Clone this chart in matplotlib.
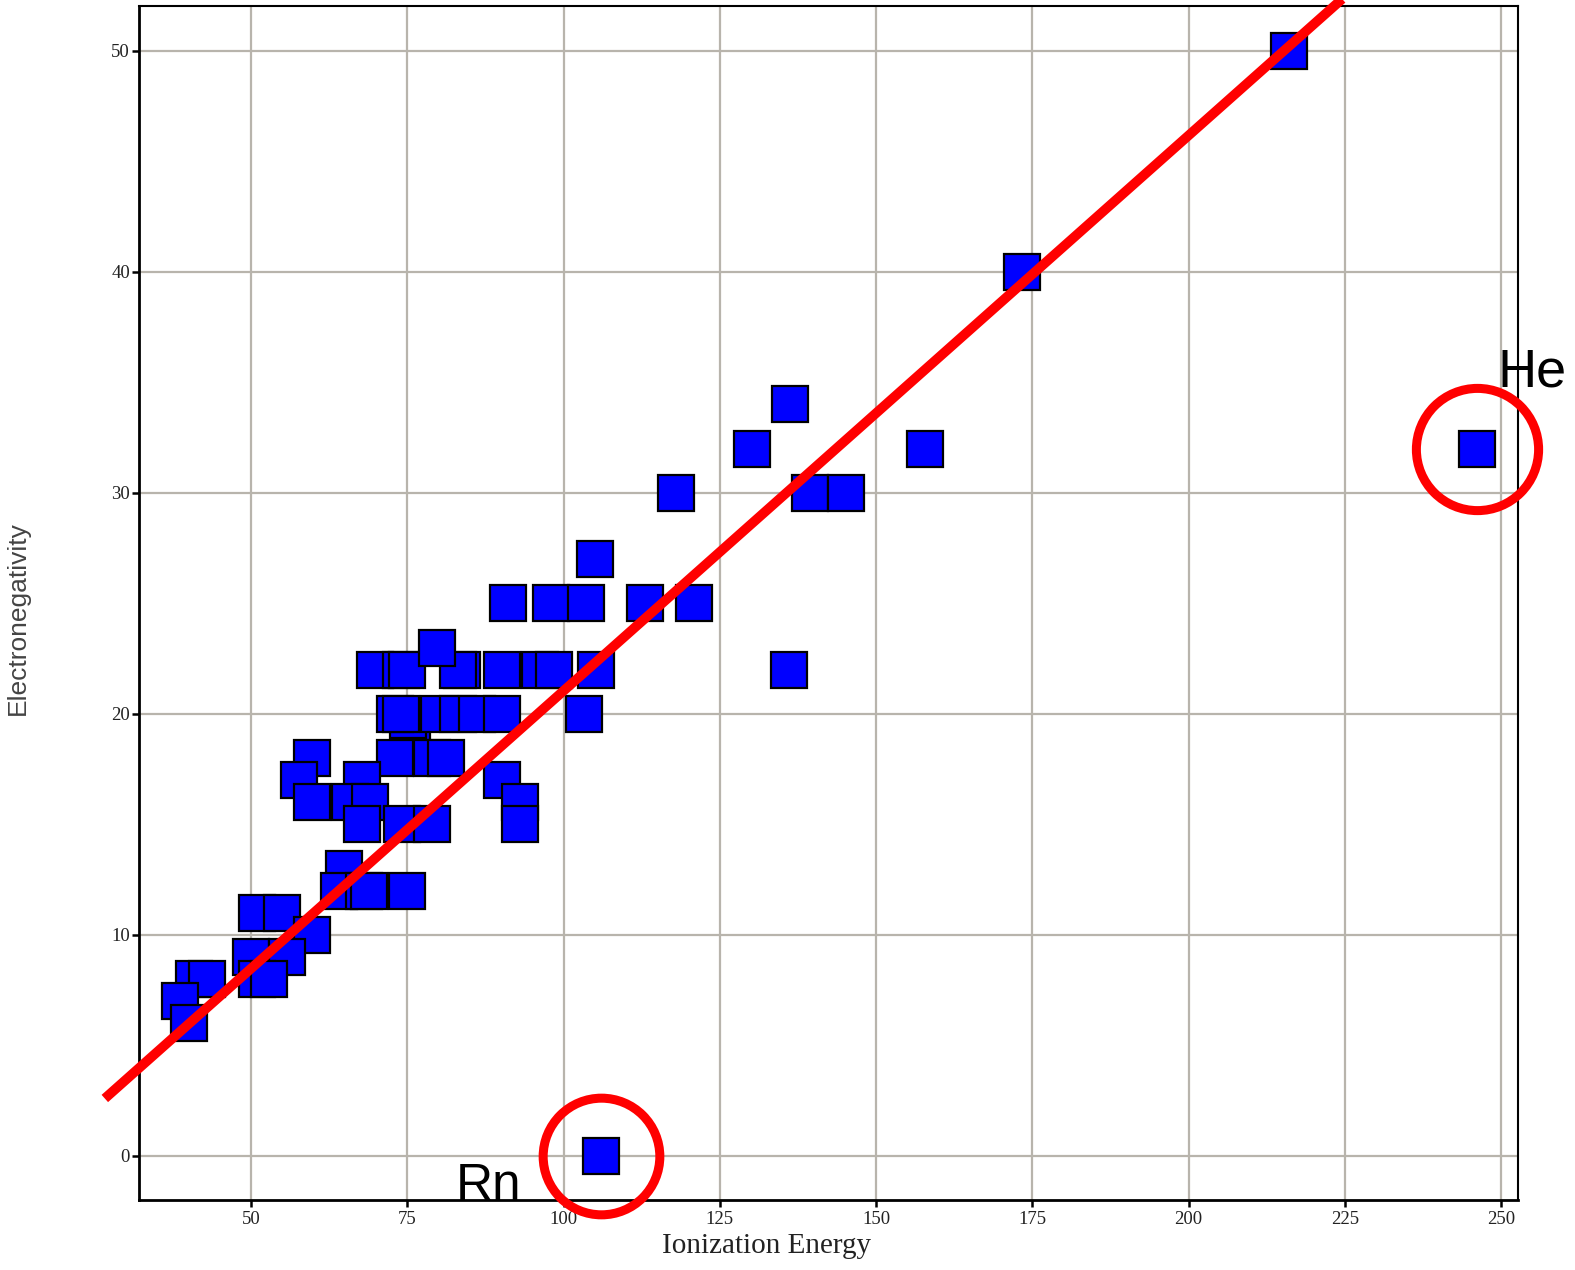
import matplotlib
matplotlib.use("Agg")
import matplotlib.pyplot as plt
import numpy as np

# ionization energy (x10) vs electronegativity (x10)
ion = [216.0, 173.3, 136.2, 130.1, 157.9, 246.2, 118.0, 139.4, 145.2, 105.1,
       91.1, 98.0, 103.6, 113.0, 120.9, 136.0, 105.2, 103.2, 106.0,
       69.9, 74.0, 74.9, 83.7, 83.1, 90.1, 96.3, 98.5, 79.8,
       75.7, 75.1,
       73.0, 74.0, 80.1, 83.1, 86.1, 90.1,
       73.0, 79.0, 81.2, 59.7,
       57.7, 67.8, 90.1,
       59.8, 65.9, 69.0, 93.1,
       67.7, 74.1, 79.0, 93.1,
       64.9,
       64.0, 68.0, 68.8, 74.9,
       50.9, 54.9,
       59.8,
       50.0, 55.8,
       40.9, 43.0, 50.9, 52.8,
       38.7, 40.0]
eneg = [50, 40, 34, 32, 32, 32, 30, 30, 30, 27,
        25, 25, 25, 25, 25, 22, 22, 20, 0,
        22, 22, 22, 22, 22, 22, 22, 22, 23,
        19.5, 19.7,
        20, 20, 20, 20, 20, 20,
        18, 18, 18, 18,
        17, 17, 17,
        16, 16, 16, 16,
        15, 15, 15, 15,
        13,
        12, 12, 12, 12,
        11, 11,
        10,
        9, 9,
        8, 8, 8, 8,
        7, 6]

# fitted trend line
slope = 0.2513
intercept = -4.09
line_x = [26.6, 232.0]

outliers = {"He": (246.2, 32), "Rn": (106.0, 0)}
xticks = [50, 75, 100, 125, 150, 175, 200, 225, 250]
yticks = [0, 10, 20, 30, 40, 50]

fig = plt.figure(figsize=(15.75, 12.7), dpi=100)
ax = fig.add_axes([0.0883, 0.0551, 0.8755, 0.9404])

ax.plot(ion, eneg, linestyle="none", marker="s", markersize=26,
        markerfacecolor="#0000ff", markeredgecolor="black", markeredgewidth=1.6, zorder=3)

lx = np.array(line_x)
ax.plot(lx, slope * lx + intercept, color="#ff0000", lw=7, solid_capstyle="butt",
        clip_on=False, zorder=4)

# circles round the two outliers
ax.plot(*outliers["He"], marker="o", markersize=88, markerfacecolor="none",
        markeredgecolor="#ff0000", markeredgewidth=6.5, clip_on=False, zorder=5)
ax.plot(*outliers["Rn"], marker="o", markersize=84, markerfacecolor="none",
        markeredgecolor="#ff0000", markeredgewidth=6.5, clip_on=False, zorder=5)

ax.text(249.5, 34.8, "He", fontsize=39, family="Liberation Sans",
        ha="left", va="baseline", color="black", zorder=6)
ax.text(82.8, -2.0, "Rn", fontsize=37, family="Liberation Sans",
        ha="left", va="baseline", color="black", zorder=6)

ax.set_xlim(32.08, 252.7)
ax.set_ylim(-2.0, 52.04)
ax.set_xticks(xticks)
ax.set_yticks(yticks)

ax.grid(True, color="#b8b4ac", lw=1.6)
ax.set_axisbelow(True)

for side in ["left", "bottom"]:
    ax.spines[side].set_linewidth(2.0)
for side in ["top", "right"]:
    ax.spines[side].set_linewidth(1.5)

ax.tick_params(axis="both", direction="out", length=5, width=1.8, color="black",
               labelcolor="#222222")
ax.tick_params(axis="x", pad=3)
ax.tick_params(axis="y", pad=1.5)
for lab in ax.get_xticklabels() + ax.get_yticklabels():
    lab.set_family("Liberation Serif")
    lab.set_fontsize(13.5)

ax.set_xlabel("Ionization Energy", family="Liberation Serif", fontsize=21, color="#222222")
ax.xaxis.set_label_coords(0.455, -0.028)
ax.set_ylabel("Electronegativity", family="Liberation Sans", fontsize=19, color="#444444")
ax.yaxis.set_label_coords(-0.079, 0.487)

plt.savefig("out.png", dpi=100)
